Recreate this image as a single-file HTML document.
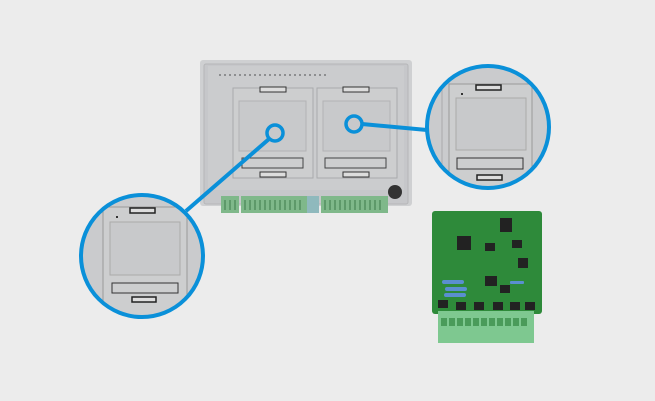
<!DOCTYPE html>
<html><head><style>html,body{margin:0;padding:0;background:#ececec;}svg{display:block}</style></head>
<body>
<svg width="655" height="401" viewBox="0 0 655 401" xmlns="http://www.w3.org/2000/svg">
<defs>
<clipPath id="cl"><circle cx="142" cy="256" r="61"/></clipPath>
<clipPath id="cr"><circle cx="488" cy="127" r="61"/></clipPath>
</defs>
<rect width="655" height="401" fill="#ececec"/>
<!-- device -->
<rect x="200" y="60" width="212" height="146" rx="3" fill="#cfd0d2"/>
<rect x="204" y="64" width="204" height="140" rx="2" fill="#c6c7ca" stroke="#b5b6b8"/>
<rect x="208" y="66" width="196" height="124" fill="#cbccce"/>
<g fill="#8d8e90">
<rect x="219" y="74" width="2" height="2"/><rect x="224" y="74" width="2" height="2"/><rect x="229" y="74" width="2" height="2"/><rect x="234" y="74" width="2" height="2"/><rect x="239" y="74" width="2" height="2"/><rect x="244" y="74" width="2" height="2"/><rect x="249" y="74" width="2" height="2"/><rect x="254" y="74" width="2" height="2"/><rect x="259" y="74" width="2" height="2"/><rect x="264" y="74" width="2" height="2"/><rect x="269" y="74" width="2" height="2"/><rect x="274" y="74" width="2" height="2"/><rect x="279" y="74" width="2" height="2"/><rect x="284" y="74" width="2" height="2"/><rect x="289" y="74" width="2" height="2"/><rect x="294" y="74" width="2" height="2"/><rect x="299" y="74" width="2" height="2"/><rect x="304" y="74" width="2" height="2"/><rect x="309" y="74" width="2" height="2"/><rect x="314" y="74" width="2" height="2"/><rect x="319" y="74" width="2" height="2"/><rect x="324" y="74" width="2" height="2"/>
</g>
<rect x="233" y="88" width="80" height="90" fill="#cdcecf" stroke="#a9aaac"/>
<rect x="239" y="101" width="67" height="50" fill="#c8c9cb" stroke="#b2b3b5"/>
<rect x="242" y="158" width="61" height="10" fill="none" stroke="#444" stroke-width="1"/>
<rect x="260" y="87" width="26" height="5" fill="#ddd" stroke="#333"/>
<rect x="260" y="172" width="26" height="5" fill="#ddd" stroke="#333"/>
<rect x="317" y="88" width="80" height="90" fill="#cdcecf" stroke="#a9aaac"/>
<rect x="323" y="101" width="67" height="50" fill="#c8c9cb" stroke="#b2b3b5"/>
<rect x="325" y="158" width="61" height="10" fill="none" stroke="#444"/>
<rect x="343" y="87" width="26" height="5" fill="#ddd" stroke="#333"/>
<rect x="343" y="172" width="26" height="5" fill="#ddd" stroke="#333"/>
<circle cx="395" cy="192" r="7" fill="#333"/>
<rect x="221" y="196" width="18" height="17" fill="#7fb88a"/>
<rect x="241" y="196" width="66" height="17" fill="#7fb88a"/>
<rect x="307" y="196" width="12" height="17" fill="#8fb9bd"/>
<rect x="321" y="196" width="67" height="17" fill="#7fb88a"/>
<g stroke="#3d7a4a" stroke-width="1">
<path d="M225 200v10M230 200v10M235 200v10M245 200v10M250 200v10M255 200v10M260 200v10M265 200v10M270 200v10M275 200v10M280 200v10M285 200v10M290 200v10M295 200v10M300 200v10M325 200v10M330 200v10M335 200v10M340 200v10M345 200v10M350 200v10M355 200v10M360 200v10M365 200v10M370 200v10M375 200v10M380 200v10"/>
</g>
<!-- PCB -->
<rect x="432" y="211" width="110" height="103" rx="3" fill="#2e8a3a"/>
<rect x="438" y="311" width="96" height="32" fill="#7ec890"/>
<g fill="#4a9b5a"><rect x="441" y="318" width="6" height="8"/><rect x="449" y="318" width="6" height="8"/><rect x="457" y="318" width="6" height="8"/><rect x="465" y="318" width="6" height="8"/><rect x="473" y="318" width="6" height="8"/><rect x="481" y="318" width="6" height="8"/><rect x="489" y="318" width="6" height="8"/><rect x="497" y="318" width="6" height="8"/><rect x="505" y="318" width="6" height="8"/><rect x="513" y="318" width="6" height="8"/><rect x="521" y="318" width="6" height="8"/></g>
<g fill="#222"><rect x="457" y="236" width="14" height="14"/><rect x="500" y="218" width="12" height="14"/><rect x="485" y="243" width="10" height="8"/><rect x="512" y="240" width="10" height="8"/><rect x="485" y="276" width="12" height="10"/><rect x="518" y="258" width="10" height="10"/><rect x="500" y="285" width="10" height="8"/><rect x="438" y="300" width="10" height="8"/><rect x="456" y="302" width="10" height="8"/><rect x="474" y="302" width="10" height="8"/><rect x="493" y="302" width="10" height="8"/><rect x="510" y="302" width="10" height="8"/><rect x="525" y="302" width="10" height="8"/></g>
<g fill="#5a8fd0"><rect x="442" y="280" width="22" height="4" rx="2"/><rect x="445" y="287" width="22" height="4" rx="2"/><rect x="444" y="293" width="22" height="4" rx="2"/><rect x="510" y="281" width="14" height="3" rx="1"/></g>
<!-- zoom circles -->
<g clip-path="url(#cl)">
<rect x="80" y="190" width="130" height="130" fill="#cacbcd"/>
<rect x="103" y="207" width="84" height="120" fill="#cdcecf" stroke="#999"/>
<rect x="110" y="222" width="70" height="53" fill="#c8c9cb" stroke="#aaa"/>
<rect x="112" y="283" width="66" height="10" fill="none" stroke="#333"/>
<rect x="130" y="208" width="25" height="5" fill="#ddd" stroke="#222" stroke-width="1.5"/>
<rect x="132" y="297" width="24" height="5" fill="#ddd" stroke="#222" stroke-width="1.5"/>
<rect x="116" y="216" width="2" height="2" fill="#333"/>
</g>
<circle cx="142" cy="256" r="61" fill="none" stroke="#0a90d9" stroke-width="4"/>
<g clip-path="url(#cr)">
<rect x="425" y="62" width="130" height="130" fill="#cacbcd"/>
<rect x="449" y="84" width="83" height="110" fill="#cdcecf" stroke="#999"/>
<rect x="456" y="98" width="70" height="52" fill="#c8c9cb" stroke="#aaa"/>
<rect x="457" y="158" width="66" height="11" fill="none" stroke="#333"/>
<rect x="476" y="85" width="25" height="5" fill="#ddd" stroke="#222" stroke-width="1.5"/>
<rect x="477" y="175" width="25" height="5" fill="#ddd" stroke="#222" stroke-width="1.5"/>
<rect x="461" y="93" width="2" height="2" fill="#333"/>
<line x1="442" y1="62" x2="442" y2="190" stroke="#aaa"/>
</g>
<circle cx="488" cy="127" r="61" fill="none" stroke="#0a90d9" stroke-width="4"/>
<line x1="269" y1="139" x2="186" y2="211" stroke="#0a90d9" stroke-width="4"/>
<line x1="362" y1="124" x2="427" y2="130" stroke="#0a90d9" stroke-width="4"/>
<circle cx="275" cy="133" r="8" fill="none" stroke="#0a90d9" stroke-width="3.5"/>
<circle cx="354" cy="124" r="8" fill="none" stroke="#0a90d9" stroke-width="3.5"/>
</svg>
</body></html>
